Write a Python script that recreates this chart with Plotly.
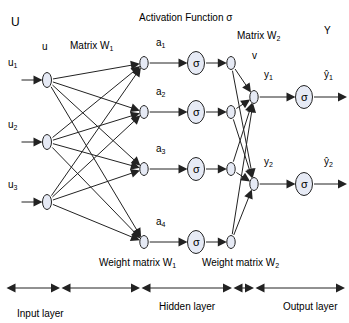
import math
import plotly.graph_objects as go

# ---- diagram data ----
input_labels = ["u<sub>1</sub>", "u<sub>2</sub>", "u<sub>3</sub>"]
input_y = [80, 142, 202]
hidden_labels = ["a<sub>1</sub>", "a<sub>2</sub>", "a<sub>3</sub>", "a<sub>4</sub>"]
hidden_y = [63, 112, 169, 242]
output_in_labels = ["y<sub>1</sub>", "y<sub>2</sub>"]
output_out_labels = ["ŷ<sub>1</sub>", "ŷ<sub>2</sub>"]
output_y = [97, 184]
layer_names = ["Input layer", "Hidden layer", "Output layer"]
layer_bounds = [5, 60, 140, 232, 254, 345]

# ---- layout constants ----
X_IN, X_H, X_SIG, X_V, X_O, X_OSIG, X_END = 47, 144, 196, 231, 254, 304, 347
FONT = "Liberation Sans Narrow, Arial Narrow, Liberation Sans, Arial, sans-serif"
FILL = "#e6eaf5"
LINE = "#222222"
FS = 10

fig = go.Figure()
shapes = []
ann = []


def ellipse(cx, cy, rx, ry):
    shapes.append(dict(type="circle", xref="x", yref="y", x0=cx - rx, x1=cx + rx,
                       y0=cy - ry, y1=cy + ry, fillcolor=FILL,
                       line=dict(color=LINE, width=1), layer="above"))


def edge_pt(c, r, toward):
    dx, dy = toward[0] - c[0], toward[1] - c[1]
    t = 1.0 / math.sqrt((dx / r[0]) ** 2 + (dy / r[1]) ** 2)
    return c[0] + dx * t, c[1] + dy * t


def arrow(p0, p1, head=True, both=False):
    ann.append(dict(x=p1[0], y=p1[1], ax=p0[0], ay=p0[1], xref="x", yref="y",
                    axref="x", ayref="y", text="", showarrow=True,
                    arrowhead=2 if head else 0, arrowsize=1.8, arrowwidth=1,
                    arrowside="end+start" if both else "end",
                    startarrowhead=2, startarrowsize=1.8,
                    arrowcolor=LINE))


def label(x, y, text, size=FS):
    ann.append(dict(x=x, y=y, xref="x", yref="y", text=text, showarrow=False,
                    font=dict(family=FONT, size=size, color="black")))


R_IN = (4.5, 7.5)
R_SM = (4.2, 6.5)
R_SIG = (8.5, 11.5)

# input nodes and arrows
for lab, y in zip(input_labels, input_y):
    ellipse(X_IN, y, *R_IN)
    arrow((20, y), (X_IN - R_IN[0], y))
    label(13, y - 17, lab)

# input -> hidden full connections
for yi in input_y:
    for yh in hidden_y:
        p0 = edge_pt((X_IN, yi), R_IN, (X_H, yh))
        p1 = edge_pt((X_H, yh), R_SM, (X_IN, yi))
        arrow(p0, p1)

# hidden chain
for lab, y in zip(hidden_labels, hidden_y):
    ellipse(X_H, y, *R_SM)
    ellipse(X_SIG, y, *R_SIG)
    ellipse(X_V, y, *R_SM)
    label(X_SIG, y, "σ", 11)
    arrow((X_H + R_SM[0], y), (X_SIG - R_SIG[0], y))
    arrow((X_SIG + R_SIG[0], y), (X_V - R_SM[0], y))
    label(161, y - 20, lab)

# hidden -> output connections
for yv in hidden_y:
    for yo in output_y:
        p0 = edge_pt((X_V, yv), R_SM, (X_O, yo))
        p1 = edge_pt((X_O, yo), R_SM, (X_V, yv))
        arrow(p0, p1)

# output chain
for li, lo, y in zip(output_in_labels, output_out_labels, output_y):
    ellipse(X_O, y, *R_SM)
    ellipse(X_OSIG, y, *R_SIG)
    label(X_OSIG, y, "σ", 11)
    arrow((X_O + R_SM[0], y), (X_OSIG - R_SIG[0], y))
    arrow((X_OSIG + R_SIG[0], y), (X_END, y))
    label(268, y - 22, li)
    label(328, y - 22, lo)

# titles
label(15, 22, "U", 12)
label(45, 46, "u")
label(91, 46, "Matrix W<sub>1</sub>")
label(186, 17, "Activation Function σ")
label(258, 36, "Matrix W<sub>2</sub>")
label(327, 30, "Y")
label(254, 55, "v")
label(137, 263, "Weight matrix W<sub>1</sub>")
label(240, 263, "Weight matrix W<sub>2</sub>")

# bottom layer scale
Y_SCALE = 288
for a, b in zip(layer_bounds[:-1], layer_bounds[1:]):
    arrow((a, Y_SCALE), (b, Y_SCALE), both=True)
label(40, 313, layer_names[0])
label(187, 306, layer_names[1])
label(310, 306, layer_names[2])

fig.update_layout(
    width=349, height=323, margin=dict(l=0, r=0, t=0, b=0),
    paper_bgcolor="white", plot_bgcolor="white",
    xaxis=dict(range=[0, 349], visible=False, fixedrange=True),
    yaxis=dict(range=[323, 0], visible=False, fixedrange=True),
    shapes=shapes, annotations=ann, showlegend=False,
)
fig.write_html("out.html", config={"displayModeBar": False},
               post_script="document.body.style.margin='0';document.body.style.overflow='hidden';")
